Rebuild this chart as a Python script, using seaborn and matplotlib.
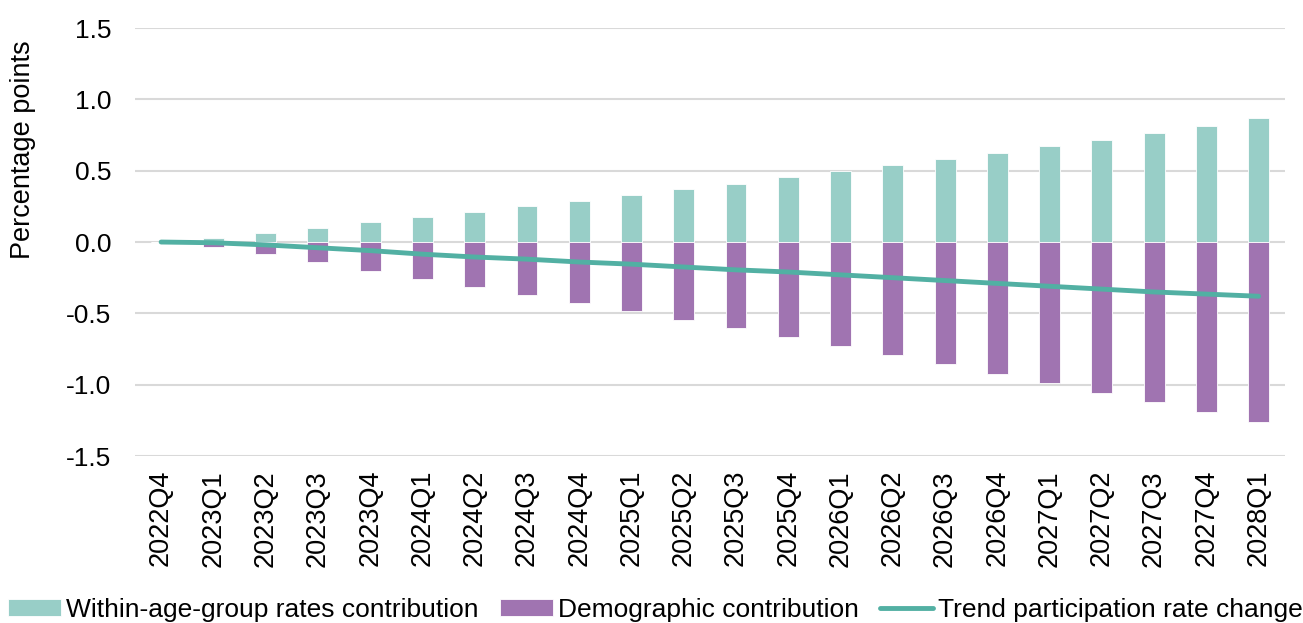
import numpy as np
import pandas as pd
import matplotlib
matplotlib.use("Agg")
import matplotlib.pyplot as plt
import seaborn as sns

# ----- Data -----
quarters = ["2022Q4", "2023Q1", "2023Q2", "2023Q3", "2023Q4", "2024Q1", "2024Q2",
            "2024Q3", "2024Q4", "2025Q1", "2025Q2", "2025Q3", "2025Q4", "2026Q1",
            "2026Q2", "2026Q3", "2026Q4", "2027Q1", "2027Q2", "2027Q3", "2027Q4",
            "2028Q1"]
within_age = [0.0, 0.03, 0.065, 0.10, 0.14, 0.175, 0.21, 0.25, 0.29, 0.33, 0.37,
              0.41, 0.455, 0.50, 0.54, 0.58, 0.625, 0.67, 0.715, 0.765, 0.815, 0.87]
demographic = [0.0, -0.035, -0.085, -0.14, -0.20, -0.26, -0.315, -0.37, -0.43, -0.485,
               -0.545, -0.605, -0.665, -0.73, -0.795, -0.855, -0.925, -0.99, -1.055,
               -1.12, -1.19, -1.26]
trend = [0.0, -0.005, -0.02, -0.04, -0.06, -0.085, -0.105, -0.12, -0.14, -0.155,
         -0.175, -0.195, -0.21, -0.23, -0.25, -0.27, -0.29, -0.31, -0.33, -0.35,
         -0.365, -0.38]

labels = ["Within-age-group rates contribution", "Demographic contribution",
          "Trend participation rate change"]
colors = ["#98CEC7", "#A074B1", "#52B0A3"]


def main():
    sns.set_theme(style="white")
    plt.rcParams["font.family"] = ["Liberation Sans", "DejaVu Sans"]
    plt.rcParams["text.color"] = "black"

    df = pd.DataFrame({"quarter": quarters, "within": within_age,
                       "demo": demographic, "trend": trend})
    df["pos"] = range(len(df))

    fig, ax = plt.subplots(figsize=(13.03, 6.23), dpi=100)
    fig.subplots_adjust(left=0.1036, right=0.986, top=0.955, bottom=0.268)

    sns.barplot(data=df, x="quarter", y="within", color=colors[0], width=0.4,
                saturation=1, edgecolor="white", linewidth=0.6, label=labels[0],
                ax=ax, zorder=2)
    sns.barplot(data=df, x="quarter", y="demo", color=colors[1], width=0.4,
                saturation=1, edgecolor="white", linewidth=0.6, label=labels[1],
                ax=ax, zorder=2)
    sns.lineplot(data=df, x="pos", y="trend", color=colors[2], linewidth=3.5,
                 label=labels[2], ax=ax, zorder=3, solid_capstyle="round")

    ax.set_xlim(-0.5, len(quarters) - 0.5)
    ax.set_ylim(-1.5, 1.5)
    ticks = np.arange(-1.5, 1.51, 0.5)
    ax.set_yticks(ticks)
    ax.set_yticklabels([f"{v:.1f}" for v in ticks])
    ax.set_xticks(range(len(quarters)))
    ax.set_xticklabels(quarters, rotation=90)
    ax.tick_params(axis="both", length=0, colors="black")
    ax.tick_params(axis="y", labelsize=19, pad=17)
    ax.tick_params(axis="x", labelsize=19.5, pad=10)

    ax.yaxis.grid(True, color="#D9D9D9", linewidth=1.5, zorder=0)
    ax.set_axisbelow(True)
    for s in ax.spines.values():
        s.set_visible(False)

    ax.set_xlabel("")
    ax.set_ylabel("Percentage points", fontsize=19.5, color="black")
    ax.yaxis.set_label_coords(-0.086, 0.715)

    handles, labs = ax.get_legend_handles_labels()
    order = [labs.index(l) for l in labels]
    if ax.get_legend() is not None:
        ax.get_legend().remove()
    fig.legend([handles[i] for i in order], [labs[i] for i in order],
               loc="center", bbox_to_anchor=(0.503, 0.021), ncol=3,
               frameon=False, fontsize=19, handlelength=2.0, handleheight=0.6,
               handletextpad=0.2, columnspacing=0.8, borderpad=0, borderaxespad=0)

    fig.savefig("out.png", dpi=100)


if __name__ == "__main__":
    main()
